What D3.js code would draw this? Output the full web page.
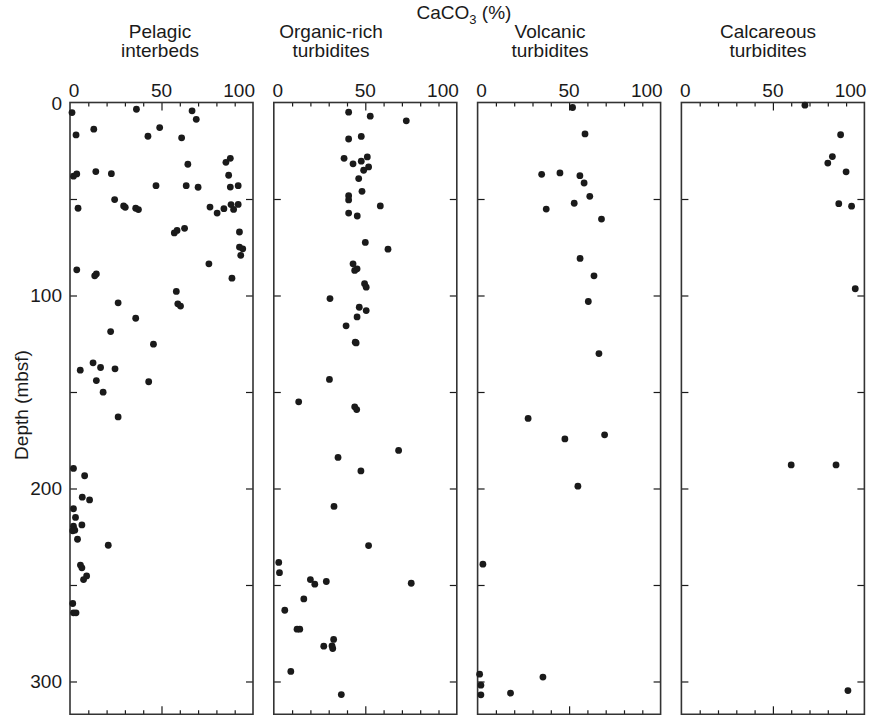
<!DOCTYPE html>
<html>
<head>
	<style>
		body { margin: 0; background: #fff; }
		svg text { font-family: "Liberation Sans", Arial, sans-serif; fill: #1a1a1a; }
	</style>
	<script src="https://cdn.jsdelivr.net/npm/d3@7"></script>
</head>
<body>
	<svg id="chart" width="869" height="715"></svg>
<script>
// CaCO3 (%) vs depth (mbsf), one panel per lithology. pairs are [caco3, depth]
var pelagic = [[1.1,5.2],[36.3,3.5],[66.7,4.3],[69,8.7],[3.3,16.8],[13,13.8],[42.6,17.5],[49,13],[61,18.3],
	[85.2,31],[87.6,28.9],[64.4,32],[1.9,38.2],[3.7,37],[14.1,35.8],[22.6,36.9],[86.7,37.7],[47,43.1],
	[63.5,43.1],[70,43.9],[87.6,43.8],[91.9,43.1],[24.4,50.3],[29.3,53.6],[30.2,54.3],[35.9,54.8],
	[37.4,55.5],[4.4,54.8],[76.5,54.2],[80.4,57.3],[84.1,55],[88,52.9],[89.4,55.4],[91.9,52.8],
	[57,67.6],[58.5,66.3],[62.6,65.2],[92.6,67.1],[92.6,74.9],[94.4,75.8],[93.3,79.2],[75.9,83.6],
	[3.7,86.7],[13.5,89.8],[14.4,88.8],[88.5,91],[58.1,97.9],[58.9,104.3],[60.4,105.5],[26.3,103.8],
	[35.9,111.8],[22.2,118.7],[45.6,125.2],[12.6,134.9],[16.7,137.3],[5.6,138.7],[24.6,138],
	[14.4,144.1],[43,144.7],[18.1,150.1],[26.3,162.9],[1.9,189.6],[8,193.4],[6.7,204.5],[10.7,205.9],
	[1.9,210.5],[3,215],[1.9,219.5],[2.6,221.6],[1.5,221.9],[6.5,218.9],[4.1,226.3],[20.9,229.4],
	[5.7,239.7],[6.5,241.1],[7.4,247.2],[9.1,245.3],[1.5,259.6],[1.9,264.4],[3.3,264.4]];

var organic = [[40.9,5],[52.7,7.1],[72.4,9.5],[40.9,18.9],[47.8,17.6],[38.4,28.9],[43.3,31.8],[47.8,30.4],
	[51.1,28.2],[51.8,33.4],[49.1,35.1],[46.4,39.4],[48.2,46],[40.9,48.3],[40.9,50.5],[58.2,53.6],
	[40.9,57.3],[45.6,58.8],[50,72.5],[62.4,76],[43.3,83.6],[44.2,87],[45.5,86.2],[49.6,93.9],
	[50.5,95.7],[30.7,101.6],[46.7,106.1],[50.5,107.8],[45.5,111.1],[39.5,115.7],[44.5,124.2],
	[45,124.6],[30.4,143.5],[13.6,155.1],[44.2,157.7],[45.3,159.1],[68.2,180.3],[35.1,183.9],
	[47.6,190.9],[32.9,209.3],[51.8,229.6],[2.7,238.3],[3.1,243.6],[20,247.2],[22.4,249.6],
	[28.7,248.2],[75.1,249.1],[16.4,257.2],[6,263.1],[12.7,272.9],[14.2,272.9],[32.7,278.2],
	[27.3,281.7],[31.8,281.5],[32.2,282.9],[9.3,294.8],[36.9,306.8]];

var volcanic = [[51.9,2.6],[58.7,16.3],[35,37.2],[45,36.5],[55.9,37.9],[58.2,41.7],[61.3,48.6],[52.8,52.2],
	[37.5,55.2],[67.7,60.4],[56,80.8],[63.6,89.8],[60.5,103.1],[66.3,130.1],[27.6,163.7],[47.7,174.3],
	[69.4,172.2],[54.8,198.8],[2.9,239.2],[1.1,296.2],[1.8,301.9],[1.8,306.9],[18,306],[35.7,297.7]];

var calcareous = [[67.5,1.4],[87,16.7],[82.5,28],[80,31.4],[90,35.9],[86,52.4],[93,53.7],[95,96.5],
	[60,187.8],[84.5,187.8],[91,304.7]];

var panelData = [pelagic, organic, volcanic, calcareous];
var panelTitles = [["Pelagic", "interbeds"], ["Organic-rich", "turbidites"], ["Volcanic", "turbidites"], ["Calcareous", "turbidites"]];
var titleCenters = [160, 331, 550, 768];
var xTickLabels = [0, 50, 100];
var depthTickLabels = [0, 100, 200, 300];

var svg = d3.select("#chart");
var ink = "#1a1a1a";
var fontSize = "19px";

var panelLeft = 70, panelStep = 203.8, panelWidth = 183;
var plotTop = 102.5, plotBottom = 714.3;

var y = d3.scaleLinear().domain([0, 317]).range([plotTop, plotBottom]);

// main title with subscript
var t = svg.append("text")
	.attr("x", 464).attr("y", 19)
	.attr("text-anchor", "middle")
	.style("font-size", fontSize);
t.append("tspan").text("CaCO");
t.append("tspan").attr("dy", 5).style("font-size", "13px").text("3");
t.append("tspan").attr("dy", -5).text(" (%)");

// depth axis label
svg.append("text")
	.attr("transform", "translate(28,405) rotate(-90)")
	.attr("text-anchor", "middle")
	.style("font-size", fontSize)
	.text("Depth (mbsf)");

svg.selectAll(".depthLabel").data(depthTickLabels)
	.enter().append("text")
	.attr("class", "depthLabel")
	.attr("x", d => d == 0 ? 62 : 62)
	.attr("y", d => y(d) + 7)
	.attr("text-anchor", "end")
	.style("font-size", fontSize)
	.text(d => d);

panelData.forEach(function(data, i){
	var left = panelLeft + panelStep * i;
	var x = d3.scaleLinear().domain([0, 100]).range([left, left + panelWidth]);
	var g = svg.append("g");

	// titles
	panelTitles[i].forEach(function(line, k){
		g.append("text")
			.attr("x", titleCenters[i])
			.attr("y", 38 + k * 19)
			.attr("text-anchor", "middle")
			.style("font-size", fontSize)
			.text(line);
	});

	// tick labels on top
	g.selectAll(".xlab").data(xTickLabels)
		.enter().append("text")
		.attr("class", "xlab")
		.attr("x", d => d == 0 ? x(d) + 4 : (d == 100 ? x(d) + 2 : x(d)))
		.attr("y", 97)
		.attr("text-anchor", d => d == 100 ? "end" : "middle")
		.style("font-size", fontSize)
		.text(d => d);

	// ticks: minor every 10, longer at 50, on top and bottom
	var minor = d3.range(10, 100, 10).filter(d => d != 50);
	[[d3.axisTop, plotTop], [d3.axisBottom, plotBottom]].forEach(function(a){
		g.append("g").attr("transform", "translate(0," + a[1] + ")")
			.call(a[0](x).tickValues(minor).tickSize(-4).tickFormat(""));
		g.append("g").attr("transform", "translate(0," + a[1] + ")")
			.call(a[0](x).tickValues([50]).tickSize(-8).tickFormat(""));
	});

	var depthTicks = d3.range(50, 317, 50);
	g.append("g").attr("transform", "translate(" + left + ",0)")
		.call(d3.axisLeft(y).tickValues(depthTicks).tickSize(-7).tickFormat(""));
	g.append("g").attr("transform", "translate(" + (left + panelWidth) + ",0)")
		.call(d3.axisRight(y).tickValues(depthTicks).tickSize(-7).tickFormat(""));

	g.selectAll(".domain").remove();
	g.selectAll(".tick line").attr("stroke", ink).attr("stroke-width", 1.2);

	g.append("rect")
		.attr("x", left).attr("y", plotTop)
		.attr("width", panelWidth).attr("height", plotBottom - plotTop)
		.attr("fill", "none")
		.attr("stroke", "#333")
		.attr("stroke-width", 1.6);

	g.selectAll("circle").data(data)
		.enter().append("circle")
		.attr("cx", d => x(d[0]))
		.attr("cy", d => y(d[1]))
		.attr("r", 3.4)
		.attr("fill", ink);
});
</script>
</body>
</html>
